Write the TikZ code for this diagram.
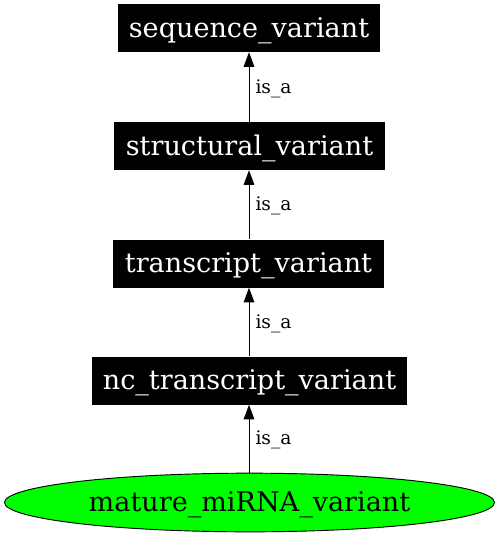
\documentclass[tikz,border=0pt]{standalone}
\usepackage{fontspec}
\setmainfont{DejaVu Serif}
\usetikzlibrary{shapes.geometric,arrows.meta}
\begin{document}
\begin{tikzpicture}[x=0.75pt,y=-0.75pt,
  termbox/.style={rectangle,fill=black,text=white,inner sep=0pt,font=\fontsize{20.3pt}{22pt}\selectfont,minimum height=36pt,text height=18.5pt,text depth=5pt},
  leaf/.style={ellipse,draw=black,line width=0.7pt,fill=green,inner sep=0pt,font=\fontsize{20.3pt}{22pt}\selectfont,minimum width=367.5pt,minimum height=44pt,text height=18.5pt,text depth=5pt},
  isa/.style={-{Triangle[length=11pt,width=8pt]},line width=0.75pt},
  elabel/.style={anchor=base west,inner sep=0pt,xshift=4.5pt,yshift=-4.5pt,font=\fontsize{14pt}{16pt}\selectfont}]
\useasboundingbox (0,0) rectangle (499,536);
\node[termbox,minimum width=196.5pt] (seq) at (249,28) {sequence\_variant};
\node[termbox,minimum width=203pt] (struct) at (249.5,146) {structural\_variant};
\node[termbox,minimum width=203pt] (trans) at (248.5,263.5) {transcript\_variant};
\node[termbox,minimum width=236pt] (nc) at (249.5,380.5) {nc\_transcript\_variant};
\node[leaf] (mat) at (249.5,502.5) {mature\_miRNA\_variant};
\draw[isa] (struct.north -| seq.south) -- node[elabel,midway] {is\_a} (seq.south);
\draw[isa] (trans.north -| seq.south) -- node[elabel,midway] {is\_a} (struct.south -| seq.south);
\draw[isa] (nc.north -| seq.south) -- node[elabel,midway] {is\_a} (trans.south -| seq.south);
\draw[isa] (mat.north -| seq.south) -- node[elabel,midway] {is\_a} (nc.south -| seq.south);
\end{tikzpicture}
\end{document}
